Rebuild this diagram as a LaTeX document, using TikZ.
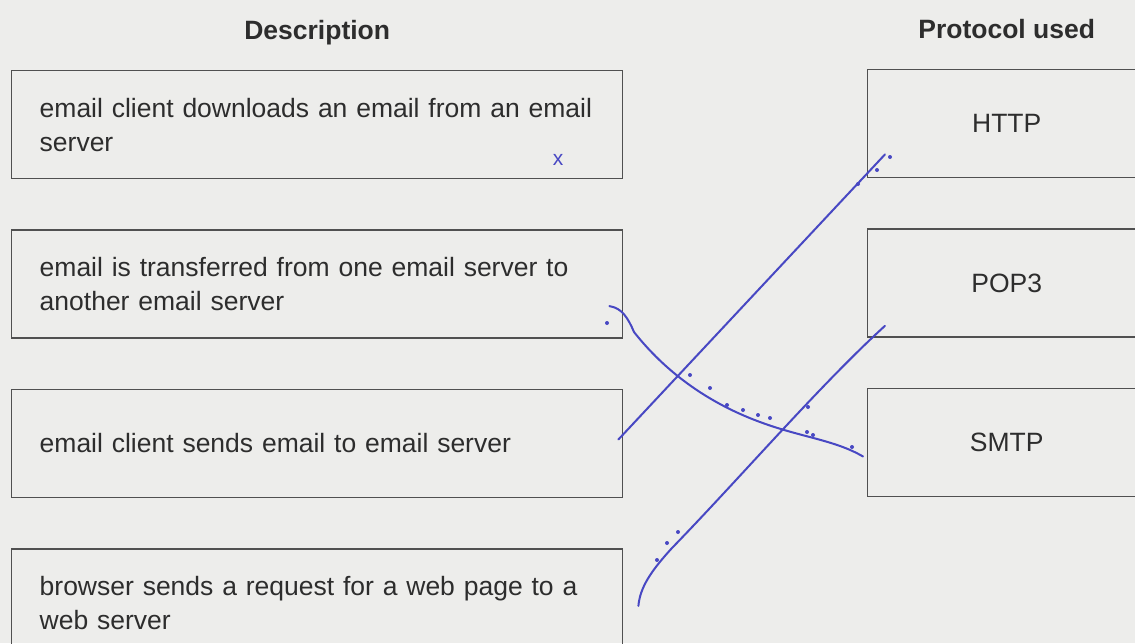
\documentclass[tikz,border=0pt]{standalone}
\usepackage{fontspec}
\setmainfont{Liberation Sans}
\usetikzlibrary{positioning,calc}

\definecolor{paper}{RGB}{237,237,235}
\definecolor{boxgray}{RGB}{80,80,80}
\definecolor{print}{RGB}{45,45,45}
\definecolor{ink}{RGB}{72,72,195}

\begin{document}
\begin{tikzpicture}[x=1pt,y=-1pt,
    descbox/.style={draw=boxgray, line width=1.4pt, text width=555pt, minimum height=108pt,
      inner xsep=28pt, inner ysep=0pt, align=left, text=print, font=\fontsize{26.5}{34}\selectfont},
    protobox/.style={draw=boxgray, line width=1.4pt, minimum width=278pt, minimum height=108pt,
      text=print, font=\fontsize{26.5}{34}\selectfont},
    heading/.style={text=print, font=\fontsize{26.5}{34}\selectfont\bfseries},
    pen/.style={draw=ink, line width=2pt, line cap=round, line join=round}]

  \clip (0,0) rectangle (1135,643);
  \fill[paper] (0,0) rectangle (1135,643);

  % description column
  \node[descbox, anchor=north west] (download) at (11,70)
    {email client downloads an email from an email\\server};
  \node[descbox, below=50pt of download] (transfer)
    {email is transferred from one email server to\\another email server};
  \node[descbox, below=50pt of transfer] (send)
    {email client sends email to email server};
  \node[descbox, below=50pt of send] (browse)
    {browser sends a request for a web page to a\\web server};

  % protocol column
  \node[protobox, anchor=north west] (http) at (867,69) {HTTP};
  \node[protobox, below=50pt of http] (pop) {POP3};
  \node[protobox, below=50pt of pop] (smtp) {SMTP};

  % headings
  \node[heading, above=31pt of download.north, anchor=base] (desctitle) {Description};
  \node[heading, above=31pt of http.north, anchor=base] (prototitle) {Protocol used};

  % pen marks
  \node[text=ink, font=\fontsize{21}{21}\selectfont] (cross) at (558,160) {x};

  \coordinate (a0) at ($(send.east)+(-5,-4)$);
  \coordinate (a1) at ($(http.south west)+(18,-24)$);
  \coordinate (b0) at ($(transfer.east)+(-14,22)$);
  \coordinate (b1) at ($(smtp.west)+(-4,14)$);
  \coordinate (c0) at ($(browse.east)+(15,3)$);
  \coordinate (c1) at ($(pop.south west)+(18,-12)$);

  \draw[pen] (a0) -- (a1);
  \draw[pen] (b0) .. controls (622,308) and (628,318) .. (634,332)
    .. controls (660,365) and (700,400) .. (760,422)
    .. controls (800,437) and (835,440) .. (b1);
  \draw[pen] (c0) .. controls (640,588) and (650,572) .. (672,548)
    .. controls (740,478) and (820,385) .. (c1);

  \foreach \px/\py in {858/184, 877/170, 890/157, 607/323, 690/375, 710/388, 727/405,
      743/410, 758/415, 770/418, 807/432, 813/435, 852/447, 657/560, 667/543, 678/532, 808/407}
    \fill[ink] (\px,\py) circle (2);
\end{tikzpicture}
\end{document}
